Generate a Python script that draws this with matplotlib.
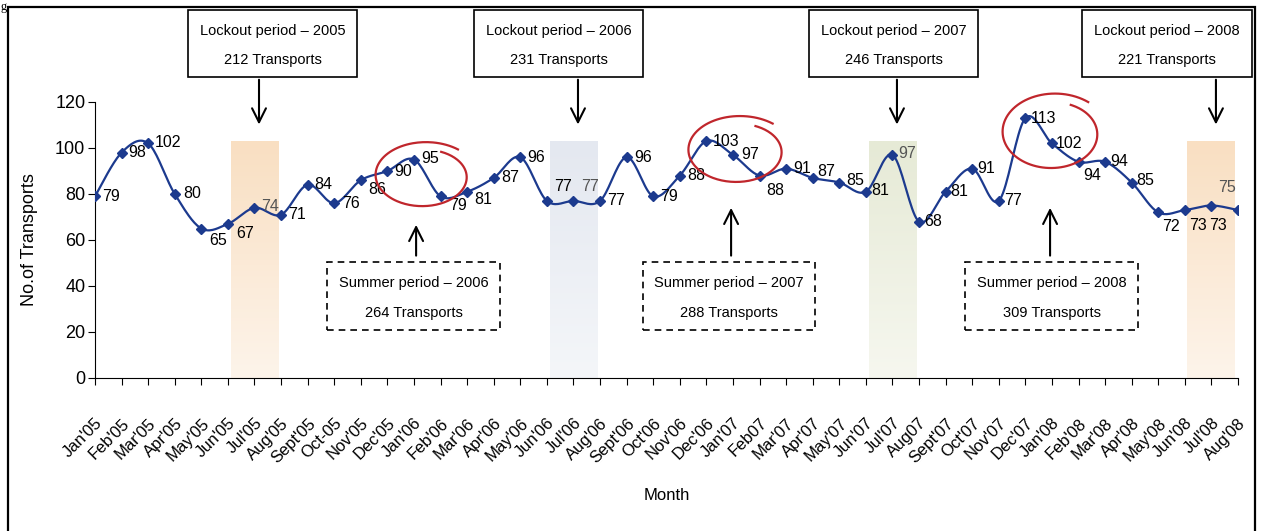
import numpy as np
import matplotlib.pyplot as plt
from matplotlib.patches import Rectangle
from matplotlib.colors import LinearSegmentedColormap

# 월별 운송 건수 (Jan'05 ~ Aug'08)
months = ["Jan'05", "Feb'05", "Mar'05", "Apr'05", "May'05", "Jun'05", "Jul'05", "Aug'05",
          "Sept'05", "Oct-05", "Nov'05", "Dec'05", "Jan'06", "Feb'06", "Mar'06", "Apr'06",
          "May'06", "Jun'06", "Jul'06", "Aug'06", "Sept'06", "Oct'06", "Nov'06", "Dec'06",
          "Jan'07", "Feb07", "Mar'07", "Apr'07", "May'07", "Jun'07", "Jul'07", "Aug07",
          "Sept'07", "Oct'07", "Nov'07", "Dec'07", "Jan'08", "Feb'08", "Mar'08", "Apr'08",
          "May'08", "Jun'08", "Jul'08", "Aug'08"]
transports = [79, 98, 102, 80, 65, 67, 74, 71, 84, 76, 86, 90, 95, 79, 81, 87,
              96, 77, 77, 77, 96, 79, 88, 103, 97, 88, 91, 87, 85, 81, 97, 68,
              81, 91, 77, 113, 102, 94, 94, 85, 72, 73, 75, 73]

# label offsets (pixels, right / down)
label_dx = [16, 16, 20, 17, 17, 17, 16, 16, 16, 17, 16, 16, 16, 17, 16, 16,
            16, 16, 17, 16, 16, 16, 16, 20, 17, 16, 16, 13, 16, 14, 15, 14,
            14, 14, 14, 18, 17, 14, 14, 14, 13, 13, 16, -20]
label_dy = [0, 0, -1, 0, 12, 10, -1, 0, 0, 0, 9, 0, -1, 9, 8, 0,
            0, -14, -14, 0, 0, 0, 0, 0, 0, 15, 0, -6, -2, -1, -1, 0,
            0, 0, 0, 0, 0, 14, 0, -2, 14, 15, -18, 15]

# lockout / summer annotations
lockout_text = ["Lockout period \u2013 2005\n\n212 Transports", "Lockout period \u2013 2006\n\n231 Transports",
                "Lockout period \u2013 2007\n\n246 Transports", "Lockout period \u2013 2008\n\n221 Transports"]
lockout_month = [6, 18, 30, 42]
lockout_box_x = [6.68, 17.44, 30.04, 40.33]
lockout_colors = [("#f9dfc2", "#fdf4ea"), ("#e4e8f0", "#f4f6f9"),
                  ("#e6ead6", "#f6f7ef"), ("#f9dfc2", "#fdf4ea")]
summer_text = ["Summer period \u2013 2006\n\n264 Transports", "Summer period \u2013 2007\n\n288 Transports",
               "Summer period \u2013 2008\n\n309 Transports"]
summer_month = [12, 24, 36]
summer_box_x = [11.98, 23.85, 35.99]
circle_center = [(12.38, 87.8), (24.19, 98.7), (36.04, 106.5)]
circle_size = [(1.77, 13.5), (1.81, 13.9), (1.84, 15.7)]

plt.rcParams['font.family'] = ['Liberation Sans', 'DejaVu Sans']

fig = plt.figure(figsize=(12.61, 5.31), dpi=100)
ax = fig.add_axes([95 / 1261, 1 - 378 / 531, (1238 - 95) / 1261, (378 - 102) / 531])

x = np.arange(len(transports))
y = np.array(transports, dtype=float)

# 음영 구간 (그라데이션)
for m, (c_top, c_bot) in zip(lockout_month, lockout_colors):
    grad = np.linspace(0, 1, 100).reshape(-1, 1)
    cm = LinearSegmentedColormap.from_list('b', [c_bot, c_top])
    ax.imshow(grad, extent=(m - 0.9, m + 0.9, 0, 103), origin='lower', cmap=cm,
              aspect='auto', zorder=0)

# smooth line (Catmull-Rom)
px = np.concatenate([[x[0]], x, [x[-1]]])
py = np.concatenate([[y[0]], y, [y[-1]]])
sx, sy = [], []
for i in range(1, len(px) - 2):
    t = np.linspace(0, 1, 20)
    for arr, out in ((px, sx), (py, sy)):
        p0, p1, p2, p3 = arr[i - 1], arr[i], arr[i + 1], arr[i + 2]
        out.extend(0.5 * ((2 * p1) + (-p0 + p2) * t + (2 * p0 - 5 * p1 + 4 * p2 - p3) * t ** 2
                          + (-p0 + 3 * p1 - 3 * p2 + p3) * t ** 3))
ax.plot(sx, sy, color='#1c3a8e', lw=1.6, zorder=3)
ax.plot(x, y, 'D', color='#1c3a8e', ms=5, zorder=4)

for i, v in enumerate(transports):
    inband = any(abs(i - m) < 0.95 for m in lockout_month)
    ax.annotate(str(v), (i, v), xytext=(label_dx[i] * 0.72, -label_dy[i] * 0.72),
                textcoords='offset points', ha='center', va='center', fontsize=11.5,
                color='#555555' if inband else 'black', zorder=5)

ax.set_xlim(0, len(transports) - 1)
ax.set_ylim(0, 120)
ax.set_yticks(range(0, 121, 20))
ax.set_xticks(x)
ax.set_xticklabels(months, rotation=45, ha='right', rotation_mode='anchor', fontsize=12)
ax.tick_params(axis='y', labelsize=13, length=5, direction='out', pad=2)
ax.tick_params(axis='x', length=5, direction='out', pad=22)
for s in ['top', 'right']:
    ax.spines[s].set_visible(False)
ax.set_ylabel('No.of Transports', fontsize=13, labelpad=12)
ax.set_xlabel('Month', fontsize=12, labelpad=16)

# top boxes with arrows
for txt, m, bx in zip(lockout_text, lockout_month, lockout_box_x):
    ax.add_patch(Rectangle((bx - 3.18, 130.9), 6.36, 29.1, facecolor='white', edgecolor='black',
                           lw=1.2, clip_on=False, zorder=6))
    ax.text(bx, 144.6, txt, ha='center', va='center', fontsize=10.5, linespacing=1.05,
            clip_on=False, zorder=7)
    ax.annotate('', xy=(m + 0.17, 109), xytext=(m + 0.17, 130.9), annotation_clip=False,
                arrowprops=dict(arrowstyle='->', lw=1.5, mutation_scale=25, color='black'))

# summer boxes (dashed) with arrows
for txt, m, bx in zip(summer_text, summer_month, summer_box_x):
    ax.add_patch(Rectangle((bx - 3.25, 20.9), 6.5, 29.5, facecolor='white', edgecolor='black',
                           lw=1.2, ls=(0, (4, 3)), zorder=6))
    ax.text(bx, 34.8, txt, ha='center', va='center', fontsize=10.5, linespacing=1.05, zorder=7)
    ax_x = m + 0.08 if m == 12 else m - 0.07
    tip = 67.8 if m == 12 else 75.2
    ax.annotate('', xy=(ax_x, tip), xytext=(ax_x, 52),
                arrowprops=dict(arrowstyle='->', lw=1.5, mutation_scale=25, color='black'))

# hand-drawn red rings
for (cx, cy), (a, b) in zip(circle_center, circle_size):
    t = np.radians(np.linspace(50, 425, 200))
    r = np.linspace(1.12, 0.86, 200)
    ax.plot(cx + a * r * np.cos(t), cy + b * r * np.sin(t), color='#c0262c', lw=1.6,
            zorder=5, clip_on=False)

# outer frame
fig.add_artist(Rectangle((8 / 1261, -0.05), 1247 / 1261, 1.05 - 7 / 531, transform=fig.transFigure,
                         fill=False, edgecolor='black', lw=1.6))
fig.text(0.0005, 0.999, 'g', fontsize=9, va='top', ha='left', family='Liberation Serif')

fig.savefig('out.png', dpi=100)
